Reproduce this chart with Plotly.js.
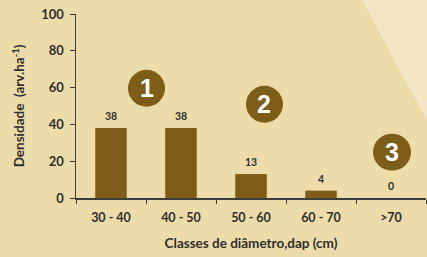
<!DOCTYPE html>
<html><head><meta charset="utf-8">
<script src="https://cdn.plot.ly/plotly-3.0.1.min.js"></script>
<style>html,body{margin:0;padding:0;background:#ECDCAA;}#chart{width:427px;height:257px;}</style>
</head><body><div id="chart"></div>
<script>
const categories = ['30 - 40', '40 - 50', '50 - 60', '60 - 70', '>70'];
const densidade = [38, 38, 13, 4, 0];
const yTicks = [0, 20, 40, 60, 80, 100];

const barColor = '#7D5D17';
const textColor = '#2E2E2E';
const font = 'Lato, "Open Sans", sans-serif';

const barLabels = categories.map((c, i) => ({
  x: c, y: densidade[i], xref: 'x', yref: 'y', text: String(densidade[i]),
  showarrow: false, yshift: 12, yanchor: 'middle',
  font: {family: font, size: 10.5, color: textColor, weight: 700}
}));

const badges = [
  {x0: 0.1486, x1: 0.2543, y0: 0.4959, y1: 0.6965, t: '1'},
  {x0: 0.4857, x1: 0.5914, y0: 0.4092, y1: 0.6098, t: '2'},
  {x0: 0.8486, x1: 0.9571, y0: 0.1491, y1: 0.3496, t: '3'}
];
const shapes = [
  {type: 'path', xref: 'paper', yref: 'paper',
   path: 'M 0.82 1.08 Q 0.897 0.79 1.0029 0.4363 L 1.01 0.4363 L 1.01 1.08 Z',
   fillcolor: '#F2E6C3', line: {color: '#F5ECD3', width: 1}, layer: 'below'}
].concat(badges.map(b => ({type: 'circle', xref: 'paper', yref: 'paper', x0: b.x0, x1: b.x1, y0: b.y0, y1: b.y1,
   fillcolor: barColor, line: {width: 0}, layer: 'above'})));
const badgeText = badges.map(b => ({
  xref: 'paper', yref: 'paper', x: (b.x0 + b.x1) / 2, y: (b.y0 + b.y1) / 2, text: b.t, showarrow: false,
  xanchor: 'center', yanchor: 'middle',
  font: {family: 'Liberation Sans, Arial, sans-serif', size: 25, color: '#FFFFFF', weight: 700}
}));

Plotly.newPlot('chart', [{
  type: 'bar', x: categories, y: densidade, marker: {color: barColor}, width: 0.45, hoverinfo: 'none'
}], {
  width: 427, height: 257,
  margin: {l: 76, r: 1, t: 14, b: 58.5, pad: 0},
  paper_bgcolor: '#ECDCAA', plot_bgcolor: 'rgba(0,0,0,0)',
  showlegend: false,
  font: {family: font, color: textColor},
  xaxis: {
    type: 'category', showgrid: false, zeroline: false, showline: true, linecolor: '#3C3C3C', linewidth: 1.5,
    ticks: 'outside', tickson: 'boundaries', ticklen: 4, tickcolor: '#3C3C3C', tickwidth: 1,
    ticklabelstandoff: 7,
    tickfont: {family: font, size: 12.5, color: textColor, weight: 700},
    title: {text: 'Classes de diâmetro,dap (cm)', font: {family: font, size: 13.5, color: textColor, weight: 700}, standoff: 15},
    range: [-0.5, 4.5], fixedrange: true
  },
  yaxis: {
    range: [0, 100], tickvals: yTicks, showgrid: false, zeroline: false, showline: true, linecolor: '#3C3C3C', linewidth: 1.5,
    ticks: 'outside', ticklen: 5, tickcolor: '#3C3C3C', tickwidth: 1,
    ticklabelstandoff: 3,
    tickfont: {family: font, size: 13, color: textColor, weight: 700},
    title: {text: 'Densidade  (arv.ha<sup>-1</sup>)', font: {family: font, size: 13.5, color: textColor, weight: 700}, standoff: 13},
    fixedrange: true
  },
  shapes: shapes,
  annotations: barLabels.concat(badgeText)
}, {displayModeBar: false, staticPlot: true});
</script></body></html>
